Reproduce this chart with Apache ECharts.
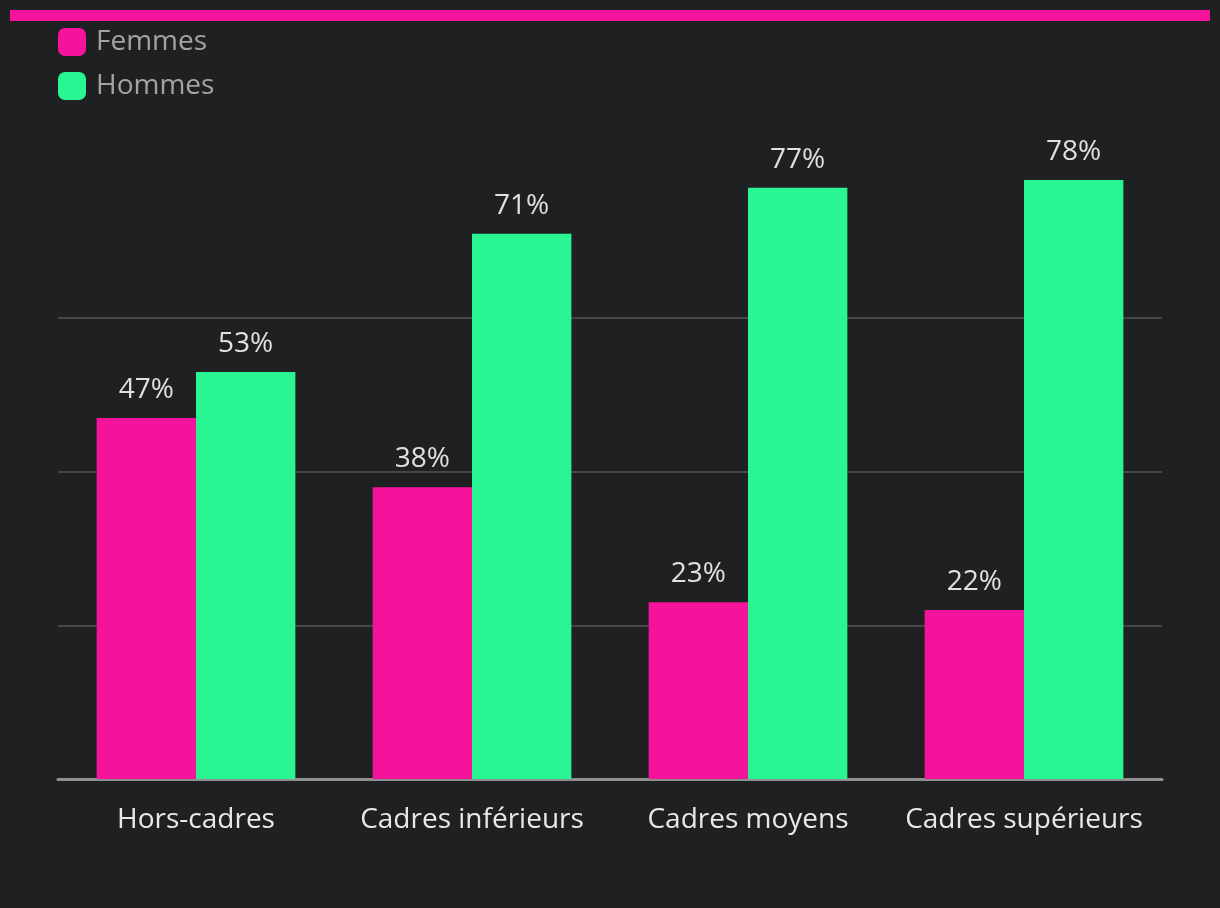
<!DOCTYPE html>
<html><head><meta charset="utf-8">
<script src="https://cdn.jsdelivr.net/npm/echarts@6/dist/echarts.min.js"></script>
<style>html,body{margin:0;padding:0;background:#1f2022;}#c{width:1220px;height:908px;}</style>
</head><body><div id="c"></div>
<script>
const categories = ['Hors-cadres', 'Cadres inférieurs', 'Cadres moyens', 'Cadres supérieurs'];
const femmes = [47, 38, 23, 22];
const hommes = [53, 71, 77, 78];
const seriesNames = ['Femmes', 'Hommes'];

const font = '"Open Sans", "Noto Sans", sans-serif';
const chart = echarts.init(document.getElementById('c'));
chart.setOption({
  backgroundColor: '#1f2022',
  animation: false,
  graphic: [{type: 'rect', shape: {x: 10, y: 10, width: 1200, height: 11}, style: {fill: '#f5139b'}}],
  legend: {
    orient: 'vertical', left: 58, top: 28, padding: 0, itemWidth: 28, itemHeight: 28, itemGap: 16,
    icon: 'roundRect',
    textStyle: {color: '#a3a3a3', fontSize: 28, fontFamily: font, padding: [0, 0, 0, 5]},
    data: seriesNames
  },
  grid: {left: 58, right: 58, top: 180, bottom: 129, containLabel: false},
  xAxis: {
    type: 'category', data: categories,
    axisLine: {lineStyle: {color: '#8f8f8f', width: 3}},
    axisTick: {show: false},
    axisLabel: {interval: 0, hideOverlap: false, color: '#e8e8e8', fontSize: 28, fontFamily: font, margin: 27}
  },
  yAxis: {
    type: 'value', min: 0, max: 78, interval: 20,
    axisLabel: {show: false}, axisLine: {show: false}, axisTick: {show: false},
    splitLine: {showMaxLine: false, lineStyle: {color: '#555', width: 1.5}}
  },
  series: [
    {name: seriesNames[0], type: 'bar', data: femmes, barGap: '0%', barCategoryGap: '28%',
     itemStyle: {color: '#f5139b'},
     label: {show: true, position: 'top', distance: 14, formatter: '{c}%', color: '#e0e0e0', fontSize: 28, fontFamily: font}},
    {name: seriesNames[1], type: 'bar', data: hommes, barGap: '0%', barCategoryGap: '28%',
     itemStyle: {color: '#29f592'},
     label: {show: true, position: 'top', distance: 14, formatter: '{c}%', color: '#e0e0e0', fontSize: 28, fontFamily: font}}
  ]
});
</script></body></html>
